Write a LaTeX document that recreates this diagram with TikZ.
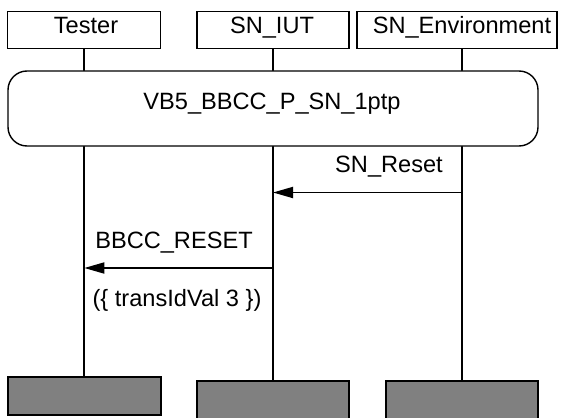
\documentclass[tikz,border=0pt]{standalone}
\usepackage{fontspec}
\setmainfont{Liberation Sans}
\usetikzlibrary{arrows.meta}
\begin{document}
\begin{tikzpicture}[x=1pt,y=-1pt,
  every node/.style={font=\fontsize{23.6}{28}\selectfont},
  topbox/.style={draw,line width=1.3pt,fill=white,inner sep=0pt,minimum height=37pt},
  botbox/.style={draw,line width=2pt,fill={rgb,255:red,128;green,128;blue,128},inner sep=0pt,minimum height=38pt},
  lbl/.style={anchor=base,inner sep=0pt},
  life/.style={line width=1.8pt},
  msg/.style={line width=1.8pt,-{Triangle[length=20pt,width=11pt]}},
  refbox/.style={draw,line width=1.4pt,fill=white,rounded corners=19pt,inner sep=0pt,minimum width=530pt,minimum height=75pt}
]
\useasboundingbox (0,0) rectangle (564,417);
% top boxes
\node[topbox,minimum width=153pt] (testerbox) at (84.3,30.2) {};
\node[topbox,minimum width=152pt] (iutbox) at (273,30.2) {};
\node[topbox,minimum width=200pt] (envbox) at (457,30.2) {};
\node[lbl] (testerlbl) at (86,33.3) {Tester};
\node[lbl] (iutlbl) at (272,33.3) {SN\_IUT};
\node[lbl] (envlbl) at (462,33.3) {SN\_Environment};
% bottom boxes
\node[botbox,minimum width=153pt] (testerbot) at (84.3,396) {};
\node[botbox,minimum width=152pt] (iutbot) at (273,400) {};
\node[botbox,minimum width=152pt] (envbot) at (462,400) {};
% lifelines
\draw[life] (testerbot.north |- testerbox.south) -- (testerbot.north);
\draw[life] (iutbot.north |- iutbox.south) -- (iutbot.north);
\draw[life] (envbot.north |- envbox.south) -- (envbot.north);
% reference box
\node[refbox] (ref) at (273,108.5) {};
\node[lbl] (reflbl) at (272,110) {VB5\_BBCC\_P\_SN\_1ptp};
% messages
\coordinate (m1s) at (462,192.5);
\coordinate (m1e) at (273,192.5);
\draw[msg] (m1s) -- (m1e);
\node[lbl] (m1lbl) at (389,172.5) {SN\_Reset};
\coordinate (m2s) at (273,268);
\coordinate (m2e) at (84.3,268);
\draw[msg] (m2s) -- (m2e);
\node[lbl] (m2lbl) at (174,248) {BBCC\_RESET};
\node[lbl] (m2par) at (177,306.5) {(\{ transIdVal 3 \})};
\end{tikzpicture}
\end{document}
